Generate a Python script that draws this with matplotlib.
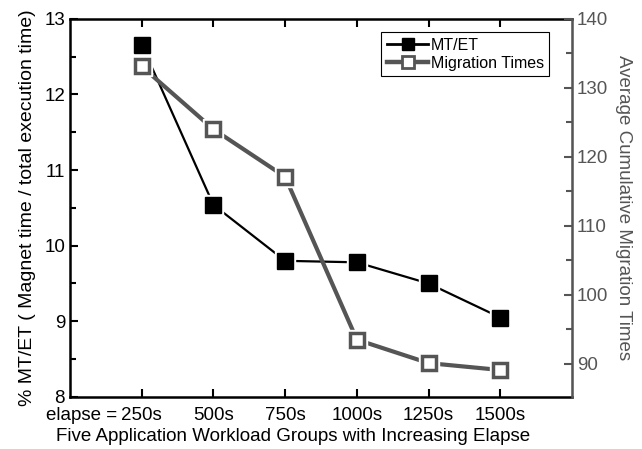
import matplotlib.pyplot as plt
from matplotlib.lines import Line2D

plt.rcParams['font.family'] = ['Liberation Sans', 'DejaVu Sans']

groups = [1, 2, 3, 4, 5, 6]
group_labels = ['250s', '500s', '750s', '1000s', '1250s', '1500s']
mt_et = [12.66, 10.54, 9.80, 9.78, 9.50, 9.05]
migration_times = [133.1, 124.0, 117.1, 93.5, 90.1, 89.1]

gray = '#555555'

fig = plt.figure(figsize=(6.42, 4.49), dpi=100)
ax = fig.add_axes([0.109, 0.116, 0.782, 0.842])
ax2 = ax.twinx()

# MT/ET series on left axis, with white gap around markers
ax.plot(groups, mt_et, color='black', lw=1.6, zorder=2)
ax.plot(groups, mt_et, ls='none', marker='s', ms=15, mfc='white', mec='white', zorder=3)
ax.plot(groups, mt_et, ls='none', marker='s', ms=11, mfc='black', mec='black', zorder=4)

# migration times on right axis
ax2.plot(groups, migration_times, color=gray, lw=3, zorder=2)
ax2.plot(groups, migration_times, ls='none', marker='s', ms=15, mfc='white', mec='white', zorder=3)
ax2.plot(groups, migration_times, ls='none', marker='s', ms=10, mfc='white', mec=gray, mew=2.5, zorder=4)

ax.set_xlim(0, 7)
ax.set_ylim(8, 13)
ax2.set_ylim(85.2, 140)
ax.set_xticks(groups)
ax.set_xticklabels(group_labels)
ax.set_yticks([8, 9, 10, 11, 12, 13])
ax.set_yticks([8.5, 9.5, 10.5, 11.5, 12.5], minor=True)
ax2.set_yticks([90, 100, 110, 120, 130, 140])
ax2.set_yticks([95, 105, 115, 125, 135], minor=True)

fs = 13.5
ax.tick_params(axis='both', direction='in', labelsize=fs, width=1.5, length=6, top=True)
ax.tick_params(axis='y', which='minor', direction='in', width=1.5, length=4)
ax.tick_params(axis='x', pad=7)
ax2.tick_params(axis='y', direction='in', colors=gray, labelcolor=gray, labelsize=fs, width=1.5, length=6)
ax2.tick_params(axis='y', which='minor', direction='in', color=gray, width=1.5, length=4)

for s in ['left', 'bottom', 'top']:
    ax.spines[s].set_linewidth(1.8)
ax2.spines['right'].set_color(gray)
ax2.spines['right'].set_linewidth(1.8)
for s in ['left', 'bottom', 'top']:
    ax2.spines[s].set_visible(False)

ax.annotate('elapse =', xy=(1, 0), xycoords=('data', 'axes fraction'),
            xytext=(-18, -7), textcoords='offset points', ha='right', va='top', fontsize=fs)

ax.set_xlabel('Five Application Workload Groups with Increasing Elapse', fontsize=fs)
ax.xaxis.set_label_coords(0.444, -0.082, transform=ax.transAxes)
ax.xaxis.label.set_va('top')
ax.set_ylabel('% MT/ET ( Magnet time / total execution time)', fontsize=14, labelpad=6)
ax2.set_ylabel('Average Cumulative Migration Times', fontsize=fs, color=gray, rotation=270, labelpad=17)

handles = [
    Line2D([], [], color='black', lw=2, marker='s', ms=9, mfc='black', mec='black'),
    Line2D([], [], color=gray, lw=3.2, marker='s', ms=8, mfc='white', mec=gray, mew=2),
]
leg = ax.legend(handles, ['MT/ET', 'Migration Times'], loc='upper right',
                bbox_to_anchor=(0.955, 0.965), fontsize=11.5, fancybox=False,
                framealpha=1, edgecolor='black', borderpad=0.35, handlelength=2.6,
                handletextpad=0.15, labelspacing=0.2, borderaxespad=0)
leg.get_frame().set_linewidth(0.8)
leg.set_zorder(10)

fig.savefig('out.png', dpi=100)
